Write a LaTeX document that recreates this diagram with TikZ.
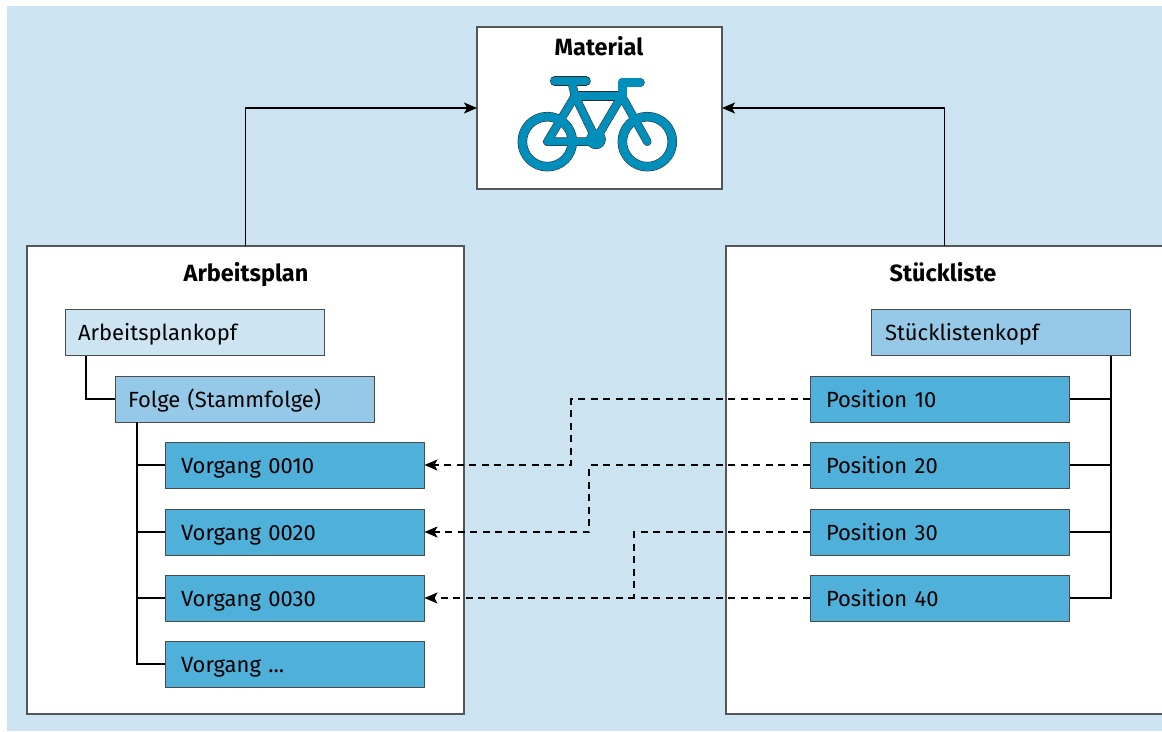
\documentclass[tikz,border=0pt]{standalone}
\usepackage{fontspec}
\setmainfont{Fira Sans}
\usetikzlibrary{arrows.meta}
\definecolor{bgblue}{HTML}{CCE3F1}
\definecolor{lightbox}{HTML}{CDE4F2}
\definecolor{midbox}{HTML}{96C9E7}
\definecolor{darkbox}{HTML}{4FB0DA}
\definecolor{bikeblue}{HTML}{008FBA}
\definecolor{edge}{HTML}{2B2B2B}
\tikzset{
  x=1pt,y=-1pt,
  bigbox/.style={draw=edge!80,fill=white,line width=1.1pt,anchor=north west,outer sep=0pt,inner sep=0pt},
  title/.style={font=\fontsize{23.5}{26}\selectfont\bfseries,inner sep=0pt,text=black,anchor=base},
  smallbox/.style={draw=edge!85,line width=0.9pt,anchor=north west,outer sep=0pt,inner ysep=0pt,inner xsep=#1,
     minimum height=46pt,text width=259.5pt-2*#1,align=left,font=\fontsize{22}{26}\selectfont,text=black,
     text height=17pt,text depth=1pt},
  conn/.style={draw=black,line width=1.25pt},
  link/.style={conn,-{Stealth[length=13pt,width=11pt,inset=3pt]}},
  dashlink/.style={draw=black,line width=1.15pt,dash pattern=on 7pt off 5.5pt,-{Stealth[length=13pt,width=11pt,inset=3pt]}},
  dashplain/.style={draw=black,line width=1.15pt,dash pattern=on 7pt off 5.5pt},
}
\begin{document}
\begin{tikzpicture}
\useasboundingbox (0,0) rectangle (1162,731);
\clip (0,0) rectangle (1162,731);
\fill[bgblue] (7,6) rectangle (1162,731);
% large boxes
\node[bigbox,minimum width=245pt,minimum height=162pt] (material) at (477,27) {};
\node[bigbox,minimum width=437pt,minimum height=468pt] (plan) at (27,246) {};
\node[bigbox,minimum width=450pt,minimum height=468pt] (stueck) at (726,246) {};
\node[title] (tmaterial) at (599,55) {Material};
\node[title] (tplan) at (246,281) {Arbeitsplan};
\node[title] (tstueck) at (943,281) {Stückliste};
% left column
\node[smallbox=13pt,fill=lightbox] (akopf) at (65,309) {Arbeitsplankopf};
\node[smallbox=13pt,fill=midbox] (folge) at (115,376) {Folge (Stammfolge)};
\node[smallbox=16pt,fill=darkbox] (v10) at (165,442) {Vorgang 0010};
\node[smallbox=16pt,fill=darkbox] (v20) at (165,509) {Vorgang 0020};
\node[smallbox=16pt,fill=darkbox] (v30) at (165,575) {Vorgang 0030};
\node[smallbox=16pt,fill=darkbox] (v40) at (165,641) {Vorgang ...};
% right column
\node[smallbox=14pt,fill=midbox] (skopf) at (871,309) {Stücklistenkopf};
\node[smallbox=16pt,fill=darkbox] (p10) at (810,376) {Position 10};
\node[smallbox=16pt,fill=darkbox] (p20) at (810,442) {Position 20};
\node[smallbox=16pt,fill=darkbox] (p30) at (810,509) {Position 30};
\node[smallbox=16pt,fill=darkbox] (p40) at (810,575) {Position 40};
% connectors to material
\coordinate (pu) at (245.6,246);
\coordinate (su) at (944.6,246);
\draw[link] (pu) |- (material.west);
\draw[link] (su) |- (material.east);
% tree left
\coordinate (ad) at (86,356);
\coordinate (fd) at (137,422);
\draw[conn] (ad) |- (folge.west);
\draw[conn] (fd) |- (v10.west);
\draw[conn] (fd) |- (v20.west);
\draw[conn] (fd) |- (v30.west);
\draw[conn] (fd) |- (v40.west);
% tree right
\coordinate (sd) at (1111,356);
\draw[conn] (sd) |- (p10.east);
\draw[conn] (sd) |- (p20.east);
\draw[conn] (sd) |- (p30.east);
\draw[conn] (sd) |- (p40.east);
% dashed links
\coordinate (d1a) at (571,399); \coordinate (d1b) at (571,465);
\coordinate (d2a) at (589,465); \coordinate (d2b) at (589,532);
\coordinate (d3a) at (634,532); \coordinate (d3b) at (634,598);
\draw[dashlink] (p10.west) -- (d1a) -- (d1b) -- (v10.east);
\draw[dashlink] (p20.west) -- (d2a) -- (d2b) -- (v20.east);
\draw[dashplain] (p30.west) -- (d3a) -- (d3b);
\draw[dashlink] (p40.west) -- (v30.east);
% bicycle
\begin{scope}[shift={(470,20)},scale=1/3,line cap=round,line join=round]
  \def\bikepaths#1#2{%
    \draw[#1,line width=#2+8.5pt] (232,365) circle (75);
    \draw[#1,line width=#2+8.5pt] (532,365) circle (75);
    \draw[#1,line width=#2+8.5pt] (254,183) -- (348,183);
    \draw[#1,line width=#2+8.5pt] (510,187) -- (458,187) -- (458,228) -- (315,228);
    \draw[#1,line width=#2+7.5pt] (306,190) -- (315,228) -- (232,365) -- (378,365);
    \draw[#1,line width=#2+7.5pt] (315,228) -- (378,358) -- (455,228) -- (532,365);
    \fill[#1] (378,358) circle (28+#2*1.5);
  }
  \bikepaths{edge}{1pt}
  \bikepaths{bikeblue}{0pt}
\end{scope}
\end{tikzpicture}
\end{document}
